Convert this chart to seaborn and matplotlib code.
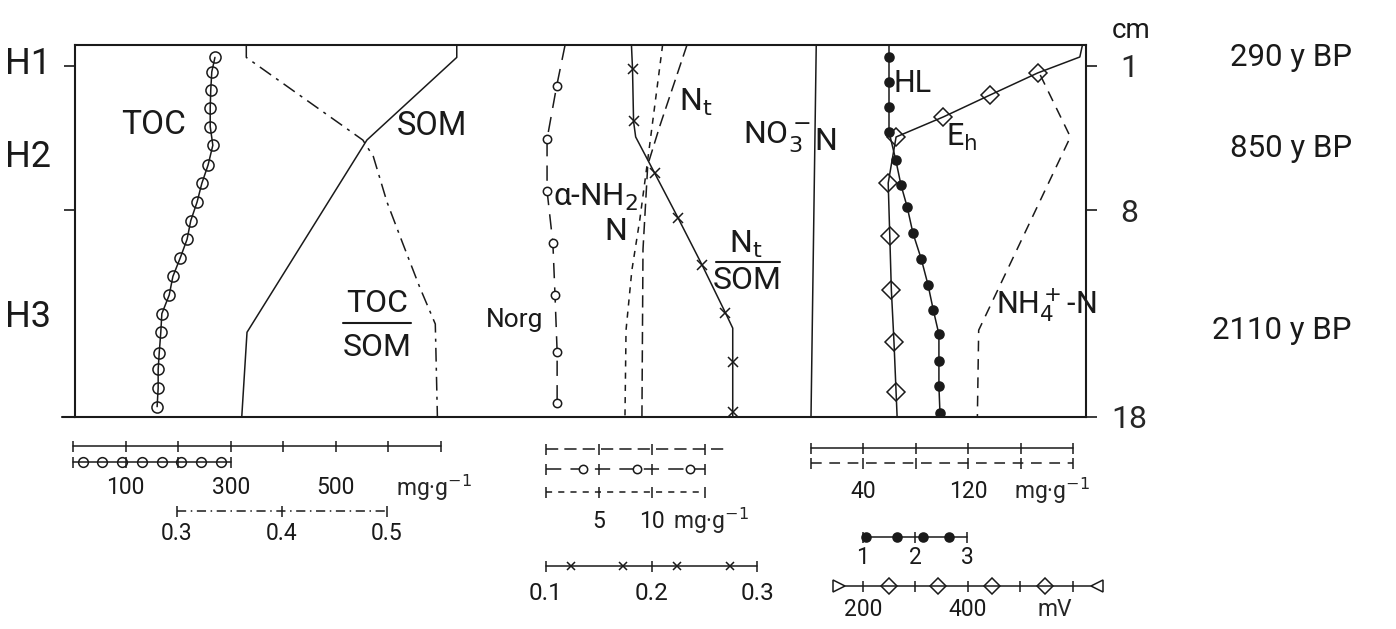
import matplotlib
matplotlib.use("Agg")
import matplotlib.pyplot as plt
from matplotlib.lines import Line2D
import seaborn as sns

W, H = 1396, 629

# ---- depth profiles (depth in cm, values in the units of the scale bars) ----
toc_depth = [0.6, 1.3, 2.2, 3.05, 3.95, 4.85, 5.8, 6.7, 7.6, 8.5,
             9.4, 10.3, 11.2, 12.1, 13.0, 13.9, 14.9, 15.7, 16.6, 17.5]
toc = [270, 264, 262, 261, 261, 266, 257, 245, 236, 224,
       217, 204, 190, 183, 169, 167, 164, 162, 162, 160]

som_depth = [0, 0.6, 4.6, 13.9, 18]
som = [730, 730, 559, 331, 321]

toc_som_depth = [0, 0.6, 4.6, 5.4, 7.6, 9.6, 11.7, 13.5, 18]
toc_som = [0.366, 0.366, 0.477, 0.487, 0.500, 0.515, 0.531, 0.546, 0.548]

norg_depth = [0, 2.0, 4.55, 7.05, 9.6, 12.1, 14.85, 17.3]
norg = [1.8, 1.0, 0.1, 0.1, 0.65, 0.85, 1.05, 1.05]

nt_depth = [0, 3.9, 5.8, 9.9, 18]
nt = [13.3, 10.75, 9.6, 9.15, 9.05]

anh2_depth = [0, 5.55, 8.45, 10.9, 13.8, 18]
anh2 = [11.0, 9.6, 8.85, 8.1, 7.55, 7.45]

nt_som_depth = [0, 1.15, 3.7, 4.45, 6.2, 8.35, 10.65, 12.95, 13.7, 15.35, 17.75, 18]
nt_som = [0.181, 0.182, 0.183, 0.185, 0.203, 0.225, 0.248, 0.270, 0.277, 0.277, 0.277, 0.277]
nt_som_samples = [1, 2, 4, 5, 6, 7, 9, 10]

no3_depth = [0, 18]
no3 = [4, 0]

nh4_depth = [1.45, 4.45, 13.8, 18]
nh4 = [175, 198, 128, 127]

hl_depth = [0, 0.58, 1.79, 3.0, 4.2, 5.56, 6.77, 7.84, 9.1, 10.35,
            11.6, 12.8, 14.0, 15.3, 16.5, 17.8]
hl = [1.50, 1.50, 1.50, 1.50, 1.50, 1.63, 1.73, 1.85, 1.96, 2.12,
      2.25, 2.35, 2.46, 2.46, 2.46, 2.48]

eh_depth = [0, 0.58, 1.35, 2.42, 3.48, 4.45, 6.68, 9.24, 11.85, 14.37, 16.79, 18]
eh = [618, 613, 533, 442, 353, 263, 248, 251, 254, 259, 263, 265]
eh_samples = [2, 3, 4, 5, 6, 7, 8, 9, 10]

depth_ticks = [1, 8, 18]
horizons = ["H1", "H2", "H3"]
horizon_depth = [0.92, 5.42, 13.16]
ages = ["290 y BP", "850 y BP", "2110 y BP"]
age_depth = [0.6, 5.0, 13.8]

sns.set_theme(style="white")
plt.rcParams['font.family'] = ['Roboto', 'DejaVu Sans']
plt.rcParams['mathtext.fontset'] = 'dejavusans'

BOX = (75, 1086)


def rect(x0, y0, x1, y1):
    return [x0 / W, 1 - y1 / H, (x1 - x0) / W, (y1 - y0) / H]


def xlim_for(v0, p0, v1, p1):
    # value range of the box width, from two calibration points of a scale bar
    k = (v1 - v0) / (p1 - p0)
    return v0 + (BOX[0] - p0) * k, v0 + (BOX[1] - p0) * k


mg_left = xlim_for(0, 73, 700, 441)
ratio_left = xlim_for(0.3, 177, 0.5, 387)
mg_mid = xlim_for(0, 546, 15, 705)
ratio_mid = xlim_for(0.1, 546, 0.3, 757)
mg_right = xlim_for(0, 811, 200, 1073)
hl_lim = xlim_for(1, 863, 3, 967)
eh_lim = xlim_for(200, 863, 600, 1073)

fig = plt.figure(figsize=(W / 100, H / 100), dpi=100)
fig.patch.set_facecolor('white')

ax = fig.add_axes(rect(BOX[0], 45, BOX[1], 417))
ax.set_xticks([])
ax.set_yticks(depth_ticks)
ax.set_yticklabels([str(d) for d in depth_ticks])
ax.tick_params(axis='y', left=True, right=True, labelleft=False, labelright=True,
               direction='out', length=8, width=1.2, color='k', labelsize=23, pad=23)
for lbl in ax.get_yticklabels():
    lbl.set_ha('center')
for s in ax.spines.values():
    s.set_color('k')
    s.set_linewidth(1.5)


def profile(lim, x, y, ls='-', marker=None, every=None, ms=7, mfc='none', lw=1.1):
    t = ax.twiny()
    sns.lineplot(x=x, y=y, sort=False, estimator=None, ax=t, color='k',
                 linewidth=lw, linestyle=ls, marker=marker, markevery=every,
                 markersize=ms, markerfacecolor=mfc, markeredgecolor='k',
                 markeredgewidth=1.1)
    t.set_xlim(*lim)
    t.axis('off')
    return t


profile(mg_left, toc, toc_depth, marker='o', ms=8)
profile(mg_left, som, som_depth)
profile(ratio_left, toc_som, toc_som_depth, ls=(0, (9, 4, 2, 4)))
profile(mg_mid, norg, norg_depth, ls=(0, (10, 6)), marker='o', every=list(range(1, 8)),
        ms=6, mfc='white')
profile(mg_mid, nt, nt_depth, ls=(0, (8, 4)))
profile(mg_mid, anh2, anh2_depth, ls=(0, (4, 4)))
profile(ratio_mid, nt_som, nt_som_depth, marker='x', every=nt_som_samples, ms=7)
profile(mg_right, no3, no3_depth)
profile(mg_right, nh4, nh4_depth, ls=(0, (7, 5)))
profile(hl_lim, hl, hl_depth, marker='o', every=list(range(1, len(hl))), ms=6.5, mfc='k')
profile(eh_lim, eh, eh_depth, marker='D', every=eh_samples, ms=9.5)
ax.set_ylim(18, 0)

# extend bottom line slightly left like the original
fig.add_artist(Line2D([62 / W, BOX[0] / W], [1 - 417 / H] * 2, color='k', lw=1.5))


def text(px, py, s, size=23, ha='center', **kw):
    fig.text(px / W, 1 - py / H, s, ha=ha, va='center', fontsize=size, color='k', **kw)


def hline(x0, x1, py, lw=1.5):
    fig.add_artist(Line2D([x0 / W, x1 / W], [1 - py / H] * 2, color='k', lw=lw))


def depth_px(d):
    return 45 + (417 - 45) * d / 18


for h, d in zip(horizons, horizon_depth):
    text(28, depth_px(d), h, size=26)
for a, d in zip(ages, age_depth):
    text(1352, depth_px(d), a, ha='right', size=22.5)
text(1131, 30, "cm", size=20)

# labels inside the profile box
text(154, 125, "TOC", size=24)
text(432, 126, "SOM", size=23.5)
text(377, 304, "TOC", size=23)
hline(343, 411, 323)
text(377, 347, "SOM", size=23)
text(515, 320, "Norg", size=19)
text(553, 197, r"α-NH$_2$", ha='left', size=22.5)
text(616, 232, "N", size=23)
text(696, 102, r"N$_{\mathrm{t}}$", size=23)
text(746, 244, r"N$_{\mathrm{t}}$", size=23)
hline(716, 780, 262)
text(747, 281, "SOM", size=23)
text(777, 137, r"NO$_3^-$", size=23)
text(826, 141, "N", size=23)
text(913, 84, "HL", size=22)
text(962, 137, r"E$_{\mathrm{h}}$", size=22)
text(1046, 305, r"NH$_4^+$-N", size=22)


# ---- scale bars below the box ----
def scale_bar(py, lim, start, end, ticks, ls='-', marks=None, marker='o', ms=7,
              mfc='none', labels=None, label_py=None, size=16.5):
    b = fig.add_axes(rect(BOX[0], py - 10, BOX[1], py + 10))
    b.set_xlim(*lim)
    b.set_ylim(-1, 1)
    b.axis('off')
    b.plot([start, end], [0, 0], color='k', lw=1.1, ls=ls, clip_on=False)
    b.vlines(ticks, -0.55, 0.55, color='k', lw=1.1, clip_on=False)
    if marks is not None:
        b.plot(marks, [0] * len(marks), ls='none', marker=marker, ms=ms, mfc=mfc,
               mec='k', mew=1.1, color='k', clip_on=False)
    if labels:
        for v, s in labels:
            b.text(v, -(label_py - py) / 10, s, ha='center', va='center',
                   fontsize=size, color='k')
    return b


som_ticks = [0, 100, 200, 300, 400, 500, 600, 700]
toc_ticks = [0, 100, 200, 300]
toc_marks = [19, 56, 94, 131, 169, 206, 244, 281]
ratio_ticks = [0.3, 0.4, 0.5]
mid_ticks = [0, 5, 10, 15]
norg_marks = [3.5, 8.6, 13.6]
ntsom_ticks = [0.1, 0.2, 0.3]
ntsom_marks = [0.124, 0.173, 0.224, 0.274]
right_ticks = [0, 40, 80, 120, 160, 200]
hl_ticks = [1, 2, 3]
hl_marks = [1.06, 1.65, 2.15, 2.65]
eh_ticks = [200, 300, 400, 500, 600]
eh_marks = [250, 343, 446, 547]

scale_bar(446, mg_left, 0, 700, som_ticks)
b = scale_bar(462, mg_left, 0, 300, toc_ticks, marks=toc_marks, ms=7,
              labels=[(100, "100"), (300, "300"), (500, "500")], label_py=488)
b.text(615, -2.6, r"mg·g$^{-1}$", ha='left', va='center', fontsize=16.5)
scale_bar(511, ratio_left, 0.3, 0.5, ratio_ticks, ls=(0, (6, 3, 1, 3)),
          labels=[(0.3, "0.3"), (0.4, "0.4"), (0.5, "0.5")], label_py=533)

scale_bar(449, mg_mid, 0, 17, mid_ticks, ls=(0, (8, 4)))
scale_bar(469, mg_mid, 0, 15, mid_ticks, ls=(0, (10, 6)), marks=norg_marks, ms=6,
          mfc='white')
b = scale_bar(492, mg_mid, 0, 15, mid_ticks, ls=(0, (4, 4)),
              labels=[(5, "5"), (10, "10")], label_py=521)
b.text(12.0, -2.9, r"mg·g$^{-1}$", ha='left', va='center', fontsize=16.5)
scale_bar(566, ratio_mid, 0.1, 0.3, ntsom_ticks, marks=ntsom_marks, marker='x', ms=6,
          labels=[(0.1, "0.1"), (0.2, "0.2"), (0.3, "0.3")], label_py=594, size=17.5)

scale_bar(448, mg_right, 0, 200, right_ticks)
b = scale_bar(463, mg_right, 0, 200, right_ticks, ls=(0, (7, 5)),
              labels=[(40, "40"), (120, "120")], label_py=491)
b.text(155, -2.8, r"mg·g$^{-1}$", ha='left', va='center', fontsize=16.5)
scale_bar(537, hl_lim, 1, 3, hl_ticks, marks=hl_marks, ms=6.5, mfc='k',
          labels=[(1, "1"), (2, "2"), (3, "3")], label_py=557)
b = scale_bar(586, eh_lim, 155, 645, eh_ticks, marks=eh_marks, marker='D', ms=8,
              labels=[(200, "200"), (400, "400")], label_py=609)
b.plot([155], [0], ls='none', marker='>', ms=8, mfc='white', mec='k', mew=1.1, clip_on=False)
b.plot([645], [0], ls='none', marker='<', ms=8, mfc='white', mec='k', mew=1.1, clip_on=False)
b.text(565, -2.3, "mV", ha='center', va='center', fontsize=16.5)

fig.savefig("out.png", dpi=100, facecolor='white')
